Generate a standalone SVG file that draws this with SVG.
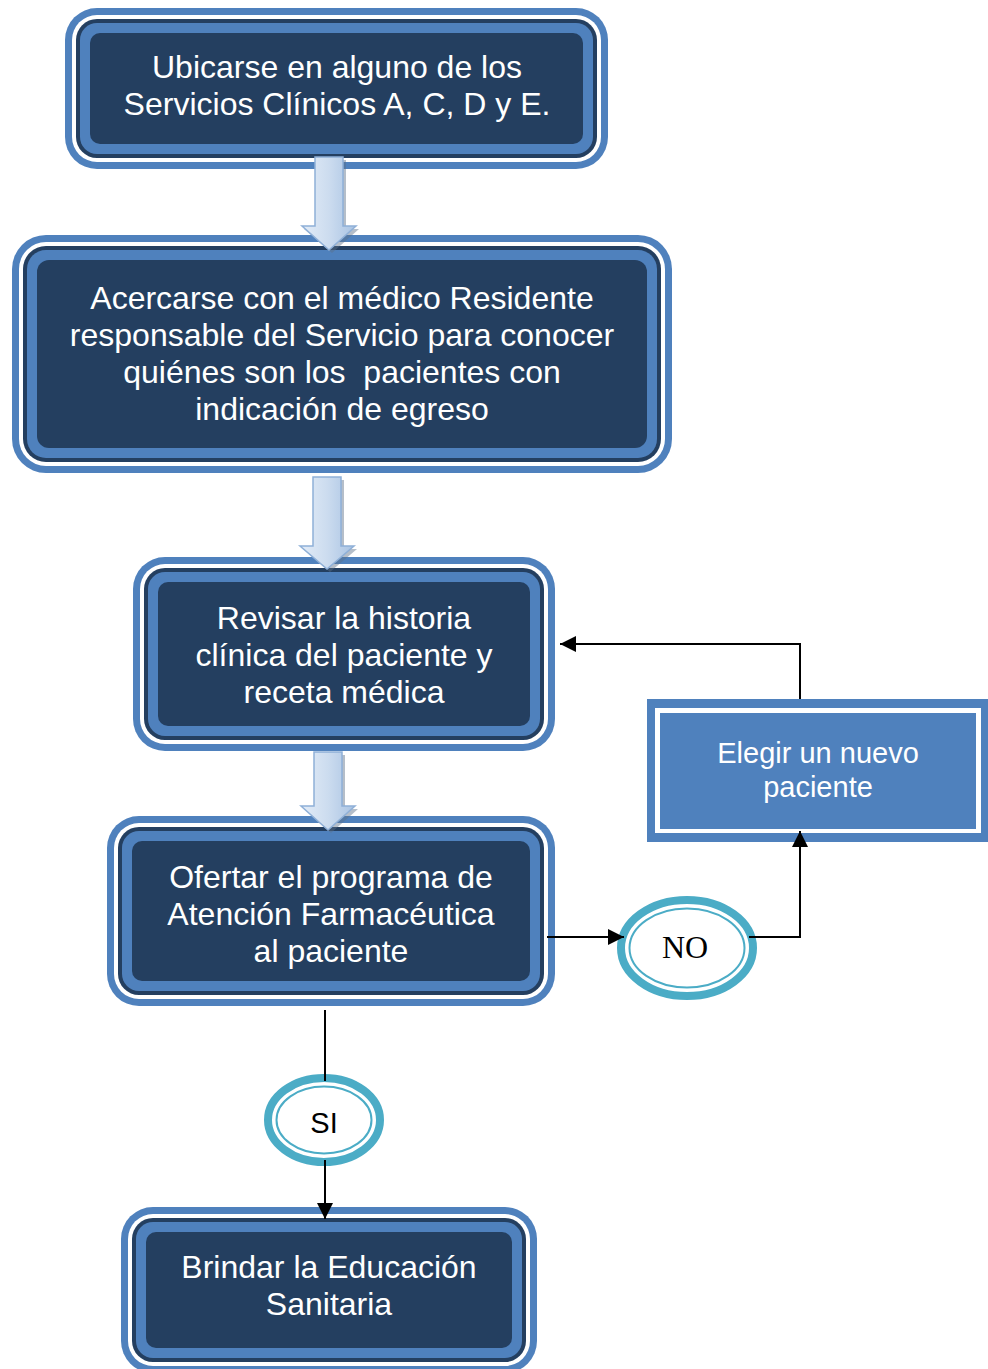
<svg xmlns="http://www.w3.org/2000/svg" width="988" height="1369" viewBox="0 0 988 1369">
<defs>
<style>
.o{fill:#4F81BD}
.w{fill:#FFFFFF}
.d{fill:#243F60}
.t{font-family:"Liberation Sans",Arial,sans-serif;font-size:32px;fill:#FFFFFF;text-anchor:middle}
.te{font-family:"Liberation Sans",Arial,sans-serif;font-size:29px;fill:#FFFFFF;text-anchor:middle}
.ring{fill:#FFFFFF;stroke:#4BACC6;stroke-width:8}
.ring2{fill:none;stroke:#4BACC6;stroke-width:2}
.c{fill:none;stroke:#000000;stroke-width:2}
.ba{fill:url(#bag);stroke:#8FB0D8;stroke-width:1.5}
.bs{fill:#5A6E88;opacity:0.45}
</style>
<linearGradient id="bag" x1="0" y1="0" x2="1" y2="0">
<stop offset="0" stop-color="#E3ECF7"/>
<stop offset="0.5" stop-color="#CCDCEF"/>
<stop offset="1" stop-color="#A9C3E3"/>
</linearGradient>
<marker id="ah" viewBox="0 0 16 16" refX="16" refY="8" markerWidth="16" markerHeight="16" markerUnits="userSpaceOnUse" orient="auto">
<path d="M0,0 L16,8 L0,16 z" fill="#000000"/>
</marker>
</defs>

<g id="box1">
<rect class="o" x="65" y="8" width="543" height="161" rx="32"/>
<rect class="w" x="72" y="15" width="529" height="147" rx="25"/>
<rect class="d" x="76" y="19" width="521" height="139" rx="21"/>
<rect class="o" x="80" y="23" width="513" height="131" rx="17"/>
<rect class="d" x="90" y="33" width="493" height="111" rx="10"/>
<text class="t" x="337" y="78">Ubicarse en alguno de los</text>
<text class="t" x="337" y="115">Servicios Clínicos A, C, D y E.</text>
</g>

<g id="box2">
<rect class="o" x="12" y="235" width="660" height="238" rx="34"/>
<rect class="w" x="19" y="242" width="646" height="224" rx="27"/>
<rect class="d" x="23" y="246" width="638" height="216" rx="23"/>
<rect class="o" x="27" y="250" width="630" height="208" rx="19"/>
<rect class="d" x="37" y="260" width="610" height="188" rx="12"/>
<text class="t" x="342" y="309">Acercarse con el médico Residente</text>
<text class="t" x="342" y="346">responsable del Servicio para conocer</text>
<text class="t" x="342" y="383" xml:space="preserve">quiénes son los  pacientes con</text>
<text class="t" x="342" y="420">indicación de egreso</text>
</g>

<g id="box3">
<rect class="o" x="133" y="557" width="422" height="194" rx="32"/>
<rect class="w" x="140" y="564" width="408" height="180" rx="25"/>
<rect class="d" x="144" y="568" width="400" height="172" rx="21"/>
<rect class="o" x="148" y="572" width="392" height="164" rx="17"/>
<rect class="d" x="158" y="582" width="372" height="144" rx="10"/>
<text class="t" x="344" y="629">Revisar la historia</text>
<text class="t" x="344" y="666">clínica del paciente y</text>
<text class="t" x="344" y="703">receta médica</text>
</g>

<g id="box4">
<rect class="o" x="107" y="816" width="448" height="190" rx="32"/>
<rect class="w" x="114" y="823" width="434" height="176" rx="25"/>
<rect class="d" x="118" y="827" width="426" height="168" rx="21"/>
<rect class="o" x="122" y="831" width="418" height="160" rx="17"/>
<rect class="d" x="132" y="841" width="398" height="140" rx="10"/>
<text class="t" x="331" y="888">Ofertar el programa de</text>
<text class="t" x="331" y="925">Atención Farmacéutica</text>
<text class="t" x="331" y="962">al paciente</text>
</g>

<g id="box5">
<rect class="o" x="121" y="1207" width="416" height="166" rx="32"/>
<rect class="w" x="128" y="1214" width="402" height="152" rx="25"/>
<rect class="d" x="132" y="1218" width="394" height="144" rx="21"/>
<rect class="o" x="136" y="1222" width="386" height="136" rx="17"/>
<rect class="d" x="146" y="1232" width="366" height="116" rx="10"/>
<text class="t" x="329" y="1278">Brindar la Educación</text>
<text class="t" x="329" y="1315">Sanitaria</text>
</g>

<g id="elegir">
<rect class="o" x="647" y="699" width="345" height="143"/>
<rect class="w" x="655" y="708" width="326" height="125"/>
<rect class="o" x="660" y="713" width="316" height="116"/>
<text class="te" x="818" y="763">Elegir un nuevo</text>
<text class="te" x="818" y="797">paciente</text>
</g>

<g id="no">
<ellipse class="ring" cx="687" cy="948" rx="66" ry="48"/>
<ellipse class="ring2" cx="687" cy="948" rx="57.5" ry="39.5"/>
<text x="685" y="958" style="font-family:'Liberation Serif','Times New Roman',serif;font-size:32px;fill:#000000;text-anchor:middle">NO</text>
</g>

<g id="si">
<ellipse class="ring" cx="324" cy="1120" rx="56" ry="42"/>
<ellipse class="ring2" cx="324" cy="1120" rx="47.5" ry="33.5"/>
<text x="324" y="1133" style="font-family:'Liberation Sans',Arial,sans-serif;font-size:29px;fill:#000000;text-anchor:middle">SI</text>
</g>

<g id="block-arrows">
<polygon class="bs" points="318,160 346,160 346,229 359,229 332,253 304,229 318,229"/>
<polygon class="ba" points="315,157 343,157 343,226 356,226 329,250 302,226 315,226"/>
<polygon class="bs" points="316,480 344,480 344,549 357,549 330,572 303,549 316,549"/>
<polygon class="ba" points="313,477 341,477 341,546 354,546 327,569 300,546 313,546"/>
<polygon class="bs" points="317,755 345,755 345,809 358,809 331,833 304,809 317,809"/>
<polygon class="ba" points="314,752 342,752 342,806 355,806 328,830 301,806 314,806"/>
</g>

<g id="connectors">
<line class="c" x1="325" y1="1010" x2="325" y2="1081"/>
<line class="c" x1="325" y1="1160" x2="325" y2="1219" marker-end="url(#ah)"/>
<line class="c" x1="547" y1="937" x2="624" y2="937" marker-end="url(#ah)"/>
<polyline class="c" points="749,937 800,937 800,831" marker-end="url(#ah)"/>
<polyline class="c" points="800,699 800,644 560,644" marker-end="url(#ah)"/>
</g>
</svg>
